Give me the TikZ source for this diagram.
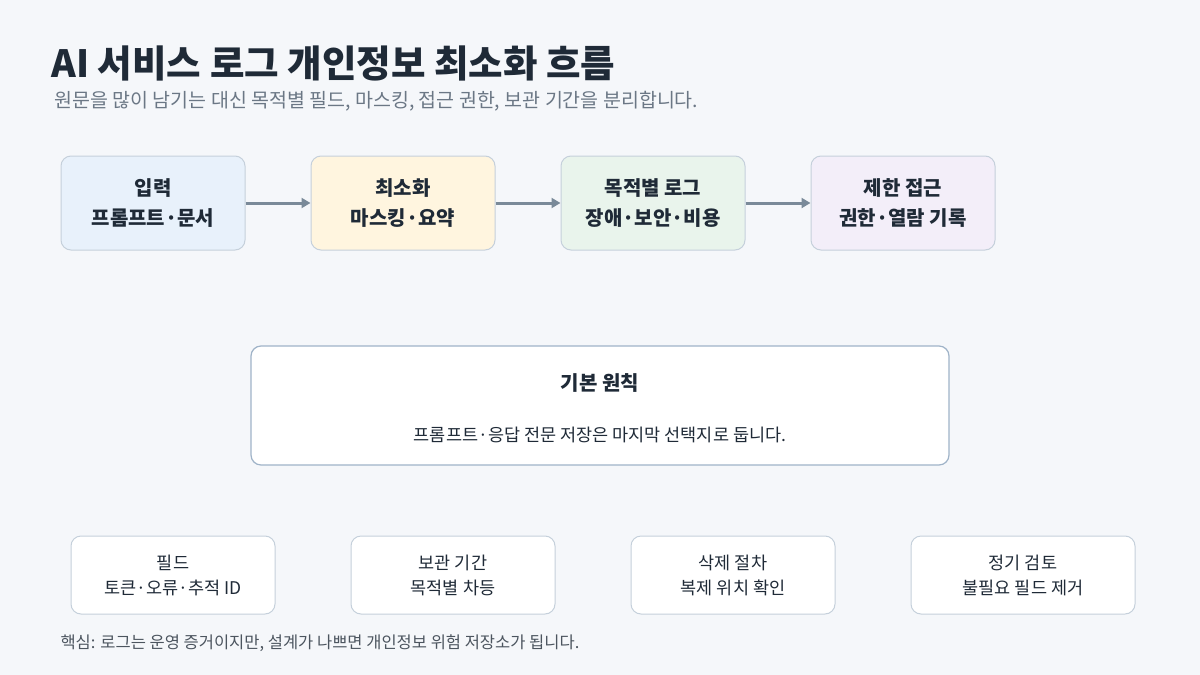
\documentclass[tikz,border=0pt]{standalone}
\usepackage{fontspec}
\setmainfont{Noto Sans CJK KR}
\usetikzlibrary{arrows.meta}
\definecolor{bg}{HTML}{F5F7FA}
\definecolor{ink}{HTML}{1F2A37}
\definecolor{sub}{HTML}{6B7785}
\definecolor{arr}{HTML}{7A8A99}
\definecolor{bd}{HTML}{C5D0DB}
\begin{document}
\begin{tikzpicture}[x=1pt,y=-1pt,
 top/.style={draw=bd,line width=1pt,rounded corners=10pt,minimum width=184pt,minimum height=94pt,align=center,font=\fontsize{20}{30}\selectfont\bfseries,text=ink},
 bot/.style={draw=bd,fill=white,line width=1pt,rounded corners=10pt,minimum width=204pt,minimum height=78pt,align=center,font=\fontsize{17.5}{25}\selectfont,text=ink},
 ar/.style={draw=arr,line width=3pt,-{Triangle[length=9pt,width=10pt]}}]
\fill[bg] (0,0) rectangle (1200,675);
\useasboundingbox (0,0) rectangle (1200,675);
\node[anchor=west,font=\fontsize{37.5}{40}\selectfont\bfseries,text=ink] (t) at (48,63) {AI 서비스 로그 개인정보 최소화 흐름};
\node[anchor=west,font=\fontsize{19.5}{22}\selectfont,text=sub] (s) at (51,101) {원문을 많이 남기는 대신 목적별 필드, 마스킹, 접근 권한, 보관 기간을 분리합니다.};
\node[top,fill={rgb,255:red,232;green,241;blue,251}] (a) at (153,203) {입력\\프롬프트·문서};
\node[top,fill={rgb,255:red,255;green,245;blue,223}] (b) at (403,203) {최소화\\마스킹·요약};
\node[top,fill={rgb,255:red,233;green,244;blue,236}] (c) at (653,203) {목적별 로그\\장애·보안·비용};
\node[top,fill={rgb,255:red,243;green,238;blue,249}] (d) at (903,203) {제한 접근\\권한·열람 기록};
\draw[ar] (a) -- (b); \draw[ar] (b) -- (c); \draw[ar] (c) -- (d);
\node[draw={rgb,255:red,159;green,179;blue,200},fill=white,line width=1.2pt,rounded corners=10pt,minimum width=698pt,minimum height=119pt] (m) at (600,405.5) {};
\node[font=\fontsize{20}{24}\selectfont\bfseries,text=ink] (mt) at (600,383) {기본 원칙};
\node[font=\fontsize{17.5}{20}\selectfont,text=ink] (ms) at (600,435) {프롬프트·응답 전문 저장은 마지막 선택지로 둡니다.};
\node[bot] (p) at (173,575) {필드\\토큰·오류·추적 ID};
\node[bot] (q) at (453,575) {보관 기간\\목적별 차등};
\node[bot] (r) at (733,575) {삭제 절차\\복제 위치 확인};
\node[bot,minimum width=224pt] (u) at (1023,575) {정기 검토\\불필요 필드 제거};
\node[anchor=west,font=\fontsize{16.5}{18}\selectfont,text=ink!80] (f) at (57,643) {핵심: 로그는 운영 증거이지만, 설계가 나쁘면 개인정보 위험 저장소가 됩니다.};
\end{tikzpicture}
\end{document}
